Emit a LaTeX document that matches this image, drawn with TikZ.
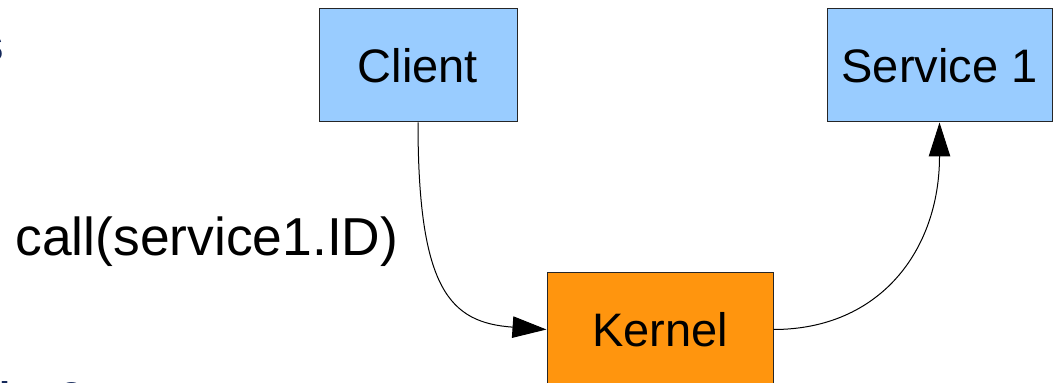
\documentclass[tikz,border=0pt]{standalone}
\usepackage{fontspec}
\setmainfont{Liberation Sans}
\usetikzlibrary{arrows.meta,positioning}

\definecolor{boxblue}{HTML}{99CCFF}
\definecolor{kernelorange}{HTML}{FF950E}
\definecolor{slidenavy}{RGB}{20,40,90}

\tikzset{
  block/.style={draw=black!85,line width=0.5pt,minimum height=56.5pt,inner sep=0pt,font=\fontsize{23.5}{28}\selectfont},
  slidetext/.style={text=slidenavy,inner sep=0pt,font=\fontsize{24}{29}\selectfont\bfseries},
}

\begin{document}
\begin{tikzpicture}[->,>={Triangle[length=17pt,width=10.75pt]},x=0.5pt,y=0.5pt,line width=0.5pt]
	  \useasboundingbox (0,0) rectangle (1053,-383);
	  \clip (0,0) rectangle (1053,-383);
	  \node[block,fill=boxblue,minimum width=99pt]      (client)  at (418,-65.5)   {Client};
	  \node[block,fill=boxblue,minimum width=112.5pt]   (service) at (939.5,-65.5) {Service 1};
	  \node[block,fill=kernelorange,minimum width=113pt] (kernel) at (660,-329.5)  {Kernel};
	  \node[inner sep=0pt,anchor=base west,font=\fontsize{26.7}{32}\selectfont] (call) at (15,-256) {call(service1.ID)};
	  % cut-off slide text at the left edge
	  \node[slidetext,anchor=base west] (titlefrag) at (-22.5,-62) {s};
	  \node[slidetext,font=\fontsize{20}{24}\selectfont\bfseries,anchor=base west] (whatfrag) at (-39,-411) {What?};
	  \path
(client.south) edge[out=-90,in=176,out distance=83.5pt,in distance=48.5pt] (kernel.west)
(kernel.east)  edge[out=0,in=-90,out distance=53.5pt,in distance=63.5pt]  (service.south)
;
	\end{tikzpicture}
\end{document}
